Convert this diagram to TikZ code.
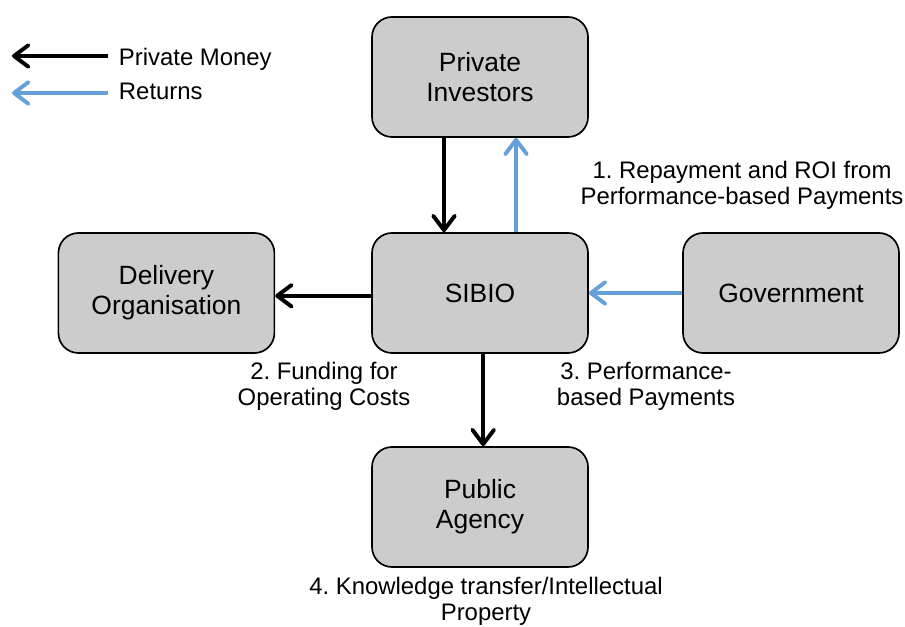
\documentclass[tikz,border=0pt]{standalone}
\usepackage{fontspec}
\setmainfont{Liberation Sans}
\usetikzlibrary{arrows.meta}
\frenchspacing
\definecolor{retblue}{RGB}{102,160,217}
\definecolor{boxgray}{RGB}{204,204,204}
\tikzset{%
    party/.style={draw=black, line width=1.2pt, fill=boxgray, rounded corners=0.5cm,
        minimum width=5.4cm, minimum height=3cm, align=center,
        font=\fontsize{18.8}{21.3}\selectfont},
    money/.style={line width=2.8pt, -{Straight Barb[length=3.6mm,width=5.4mm,round]}},
    back/.style={money, draw=retblue},
    lbl/.style={align=center, font=\fontsize{17}{18.5}\selectfont}
}

\begin{document}
\begin{tikzpicture}
            \useasboundingbox (0,0) rectangle (22.625,15.675);

            % legend
            \node[lbl, anchor=west] (pmtxt) at (2.85,14.2){Private Money};
            \node[lbl, anchor=west] (rettxt) at (2.85,13.4){Returns};
            \coordinate (pmtip) at (0.3,14.275);
            \coordinate (rettip) at (0.3,13.35);
            \draw[money, shorten <=1.5mm] (pmtxt.west |- pmtip) -- (pmtip);
            \draw[back, shorten <=1.5mm] (rettxt.west |- rettip) -- (rettip);

            % parties
            \node[party] (inv) at (12,13.75){Private\\Investors};
            \node[party] (sib) at (12,8.35){SIBIO};
            \node[party] (del) at (4.16,8.35){Delivery\\Organisation};
            \node[party] (gov) at (19.775,8.35){Government};
            \node[party] (pub) at (12,3.0){Public\\Agency};

            % flows of money
            \draw[money] ([xshift=-0.9cm]inv.south) -- ([xshift=-0.9cm]sib.north);
            \draw[back] ([xshift=0.9cm]sib.north) -- ([xshift=0.9cm]inv.south);
            \draw[money] ([yshift=-0.07cm]sib.west) -- ([yshift=-0.07cm]del.east);
            \draw[back] (gov.west) -- (sib.east);
            \draw[money] ([xshift=0.08cm]sib.south) -- ([xshift=0.08cm]pub.north);

            % labels
            \node[lbl] (l1) at (18.55,11.05){1. Repayment and ROI from\\Performance-based Payments};
            \node[lbl] (l2) at (8.1,6.01){2. Funding for\\Operating Costs};
            \node[lbl] (l3) at (16.15,6.02){3. Performance-\\based Payments};
            \node[lbl] (l4) at (12.15,0.63){4. Knowledge transfer/Intellectual\\Property};
        \end{tikzpicture}
\end{document}
